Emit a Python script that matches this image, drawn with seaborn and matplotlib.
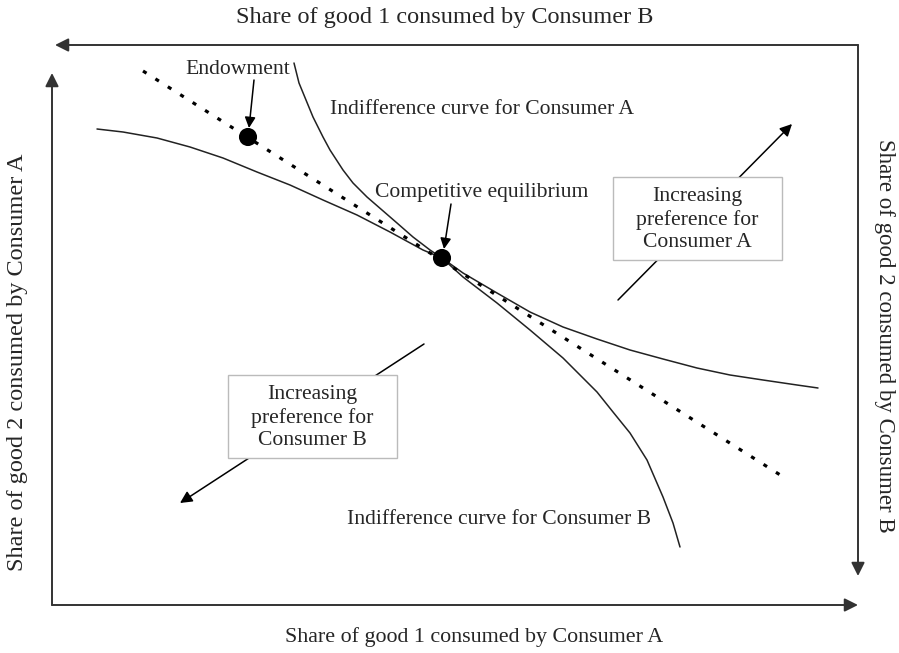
import matplotlib
matplotlib.use("Agg")
import matplotlib.pyplot as plt
from matplotlib.patches import Rectangle
import seaborn as sns

# -------------------------------
# Data (pixel-like units, y grows downward)
# -------------------------------
curve_a_x = [294, 299, 306, 313, 323, 330, 343, 353, 367, 382, 397, 413, 430, 442,
             463, 497, 530, 563, 597, 630, 663, 697, 730, 763, 797, 818]
curve_a_y = [63, 83, 100, 117, 137, 150, 170, 183, 197, 210, 223, 237, 250, 258,
             273, 293, 312, 327, 339, 350, 359, 368, 375, 380, 385, 388]

curve_b_x = [97, 123, 157, 190, 223, 257, 290, 323, 357, 390, 423, 442,
             463, 497, 530, 563, 597, 613, 630, 647, 663, 673, 680]
curve_b_y = [129, 132, 138, 147, 158, 172, 185, 200, 215, 232, 250, 258,
             277, 303, 330, 358, 392, 412, 433, 460, 497, 523, 547]

budget_x = [143, 785]
budget_y = [71, 478]

point_x = [248, 442]          # endowment, competitive equilibrium
point_y = [137, 258]

axis_label_bottom = "Share of good 1 consumed by Consumer A"
axis_label_top = "Share of good 1 consumed by Consumer B"
axis_label_left = "Share of good 2 consumed by Consumer A"
axis_label_right = "Share of good 2 consumed by Consumer B"

box_text_a = "Increasing\npreference for\nConsumer A"
box_text_b = "Increasing\npreference for\nConsumer B"

# -------------------------------
# Figure
# -------------------------------
sns.set_theme(style="white")
plt.rcParams['font.family'] = ['Liberation Serif', 'DejaVu Serif']

fig = plt.figure(figsize=(8.99, 6.53), dpi=100)
ax = fig.add_axes([0, 0, 1, 1])
ax.set_xlim(0, 899)
ax.set_ylim(653, 0)
ax.axis("off")

sns.lineplot(x=curve_a_x, y=curve_a_y, sort=False, estimator=None, color="#222", lw=1.1, ax=ax)
sns.lineplot(x=curve_b_x, y=curve_b_y, sort=False, estimator=None, color="#222", lw=1.1, ax=ax)
sns.lineplot(x=budget_x, y=budget_y, sort=False, estimator=None, color="black", lw=2.3, ax=ax)
ax.lines[-1].set_linestyle((0, (1.3, 3.3)))
sns.scatterplot(x=point_x, y=point_y, color="black", s=170, zorder=5, ax=ax, edgecolor="none")

axis_col = "#333333"
def arrow(start, tip, lw=1.4, scale=20, color=axis_col):
    ax.annotate("", xy=tip, xytext=start,
                arrowprops=dict(arrowstyle="-|>", color=color, lw=lw, mutation_scale=scale,
                                shrinkA=0, shrinkB=0))

# box axes (Edgeworth box)
arrow((52, 605), (858, 605))
arrow((52, 605), (52, 73))
arrow((858, 45), (55, 45))
arrow((858, 45), (858, 576))

# annotation arrows
arrow((254, 80), (249, 128), lw=1.1, scale=16, color="black")
arrow((451, 204), (444, 249), lw=1.1, scale=16, color="black")
arrow((618, 300), (792, 124), lw=1.1, scale=18, color="black")
arrow((424, 344), (180, 503), lw=1.1, scale=18, color="black")

fs = 15.6
ax.text(238, 70, "Endowment", fontsize=fs, ha="center", va="center")
ax.text(375, 192, "Competitive equilibrium", fontsize=fs, ha="left", va="center")
ax.text(330, 110, "Indifference curve for Consumer A", fontsize=fs, ha="left", va="center")
ax.text(347, 520, "Indifference curve for Consumer B", fontsize=fs, ha="left", va="center")

for (x0, y0, x1, y1), txt in [((613, 177, 782, 260), box_text_a), ((228, 375, 397, 458), box_text_b)]:
    ax.add_patch(Rectangle((x0, y0), x1 - x0, y1 - y0, fc="white", ec="#bbbbbb", lw=1, zorder=6))
    ax.text((x0 + x1) / 2, (y0 + y1) / 2 + 1, txt, fontsize=fs, ha="center", va="center",
            linespacing=1.22, zorder=7)

ax.text(445, 17, axis_label_top, fontsize=17.5, ha="center", va="center")
ax.text(474, 637, axis_label_bottom, fontsize=15.8, ha="center", va="center")
ax.text(18, 362, axis_label_left, fontsize=17.5, ha="center", va="center", rotation=90)
ax.text(884, 336, axis_label_right, fontsize=16.5, ha="center", va="center", rotation=-90)

fig.savefig("out.png", dpi=100)
